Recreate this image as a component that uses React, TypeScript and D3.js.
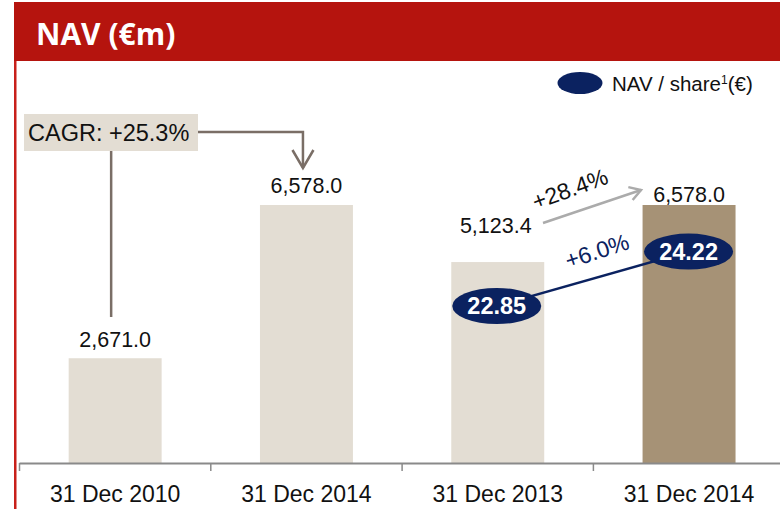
import React from "react";
import * as d3 from "d3";

const categories = ["31 Dec 2010", "31 Dec 2014", "31 Dec 2013", "31 Dec 2014"];
const navValues = [2671.0, 6578.0, 5123.4, 6578.0];
const navLabels = ["2,671.0", "6,578.0", "5,123.4", "6,578.0"];
const navPerShare = [null, null, 22.85, 24.22];
const navPerShareLabels = ["", "", "22.85", "24.22"];
const cagrLabel = "CAGR: +25.3%";
const growthNav = "+28.4%";
const growthShare = "+6.0%";
const title = "NAV (€m)";
const legendLabel = "NAV / share";

const W = 780;
const H = 509;
const baseY = 463;
const FONT = "'Liberation Sans', Arial, sans-serif";
const RED = "#B5140E";
const LIGHT = "#E3DDD3";
const DARK = "#A69276";
const NAVY = "#0B2260";
const CONNECT = "#7A6E66";

export default function App() {
  const x = d3
    .scaleBand<number>()
    .domain(d3.range(categories.length))
    .range([19.5, 784.7])
    .paddingInner(0.514)
    .paddingOuter(0.257);
  const y = d3.scaleLinear().domain([0, 6578]).range([baseY, 205]);
  const yShare = d3.scaleLinear().domain([22, 25]).range([339.8, 220.5]);
  const cx = (i: number) => (x(i) as number) + x.bandwidth() / 2;
  const step = x.step();
  const tickXs = d3.range(categories.length + 1).map((i) => 19.5 + i * step);
  const labelLift = [11, 12, 29, 3];

  const s2 = navPerShare[2] as number;
  const s3 = navPerShare[3] as number;
  const e2 = { x: cx(2) - 1, y: yShare(s2) };
  const e3 = { x: cx(3) - 0.5, y: yShare(s3) };

  // gray arrow from bar 3 label to bar 4 label
  const a0 = { x: 543, y: 223 };
  const a1 = { x: 641, y: 190 };
  const ang = Math.atan2(a1.y - a0.y, a1.x - a0.x);
  const head = 13;
  const h1 = { x: a1.x - head * Math.cos(ang - 0.55), y: a1.y - head * Math.sin(ang - 0.55) };
  const h2 = { x: a1.x - head * Math.cos(ang + 0.55), y: a1.y - head * Math.sin(ang + 0.55) };

  const cagrX = cx(0) - 4;
  const arrowX = cx(1) - 4;

  return (
    <svg
      width={W}
      height={H}
      style={{ position: "absolute", left: 0, top: 0, background: "#fff" }}
      fontFamily={FONT}
    >
      {/* header */}
      <rect x={14} y={2} width={W - 14} height={59} fill={RED} />
      <text x={36} y={45} fill="#fff" fontFamily="'Open Sans', sans-serif" fontWeight={700} fontSize={30}>
        {title}
      </text>
      <rect x={14} y={61} width={2.5} height={H - 61} fill="#C8201A" />

      {/* legend */}
      <ellipse cx={580} cy={83} rx={22.5} ry={11} fill={NAVY} />
      <text x={612} y={91} fontSize={20.5} fill="#111">
        {legendLabel}
        <tspan fontSize={12} dy={-7}>1</tspan>
        <tspan dy={7}>(€)</tspan>
      </text>

      {/* bars */}
      {navValues.map((v, i) => (
        <rect
          key={"b" + i}
          x={x(i)}
          y={y(v)}
          width={x.bandwidth()}
          height={baseY - y(v)}
          fill={i === 3 ? DARK : LIGHT}
        />
      ))}
      {navValues.map((v, i) => (
        <text
          key={"l" + i}
          x={cx(i) + (i === 2 ? -2 : 0)}
          y={y(v) - labelLift[i]}
          textAnchor="middle"
          fontSize={21.5}
          fill="#111"
        >
          {navLabels[i]}
        </text>
      ))}

      {/* axis */}
      <line x1={tickXs[0]} x2={W} y1={baseY + 0.5} y2={baseY + 0.5} stroke="#8a8a8a" strokeWidth={2} />
      {tickXs.map((t, i) => (
        <line key={"t" + i} x1={t} x2={t} y1={baseY} y2={baseY + 8} stroke="#8a8a8a" strokeWidth={1.5} />
      ))}
      {categories.map((c, i) => (
        <text key={"c" + i} x={cx(i)} y={502} textAnchor="middle" fontSize={23} fill="#111">
          {c}
        </text>
      ))}

      {/* CAGR annotation */}
      <line x1={cagrX} x2={cagrX} y1={151} y2={317} stroke={CONNECT} strokeWidth={2.5} />
      <polyline
        points={`198,132 ${arrowX + 0.5},132 ${arrowX + 0.5},168`}
        fill="none"
        stroke={CONNECT}
        strokeWidth={2.5}
      />
      <polyline
        points={`${arrowX - 10},150 ${arrowX + 0.5},168 ${arrowX + 11},150`}
        fill="none"
        stroke={CONNECT}
        strokeWidth={2.5}
      />
      <rect x={24} y={114} width={174} height={37} fill={LIGHT} />
      <text x={28} y={141} fontSize={23.5} fill="#111">
        {cagrLabel}
      </text>

      {/* gray growth arrow */}
      <line x1={a0.x} y1={a0.y} x2={a1.x} y2={a1.y} stroke="#ABABAB" strokeWidth={2.5} />
      <polyline
        points={`${h1.x},${h1.y} ${a1.x},${a1.y} ${h2.x},${h2.y}`}
        fill="none"
        stroke="#ABABAB"
        strokeWidth={2.5}
      />
      <text x={570} y={197} textAnchor="middle" fontSize={23} fill="#111" transform="rotate(-20 570 189)">
        {growthNav}
      </text>

      {/* NAV per share */}
      <line x1={e2.x} y1={e2.y} x2={e3.x} y2={e3.y} stroke={NAVY} strokeWidth={2.5} />
      <text x={597} y={259} textAnchor="middle" fontSize={23} fill={NAVY} transform="rotate(-18 597 251)">
        {growthShare}
      </text>
      {[2, 3].map((i) => {
        const cxv = i === 2 ? e2.x : e3.x;
        const cyv = i === 2 ? e2.y : e3.y;
        return (
          <g key={"e" + i}>
            <ellipse cx={cxv} cy={cyv} rx={44.5} ry={18} fill={NAVY} />
            <text x={cxv} y={cyv + 8} textAnchor="middle" fontSize={23.5} fontWeight={700} fill="#fff">
              {navPerShareLabels[i]}
            </text>
          </g>
        );
      })}
    </svg>
  );
}
